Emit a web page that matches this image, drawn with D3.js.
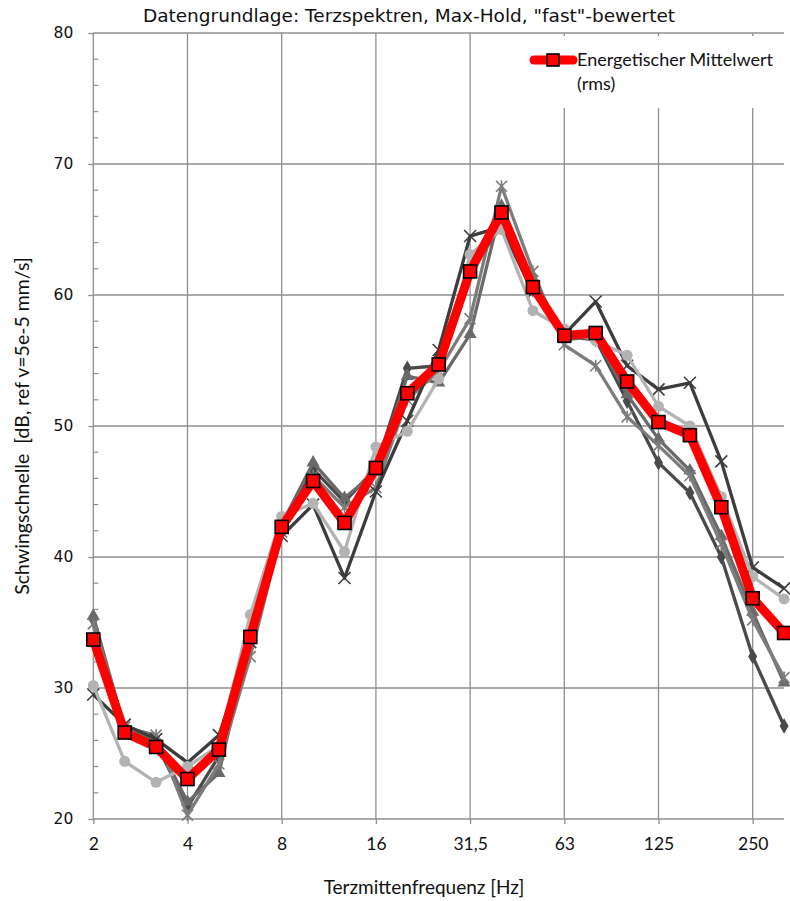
<!DOCTYPE html>
<html>
<head>
<meta charset="utf-8">
<script src="https://cdn.jsdelivr.net/npm/d3@7"></script>
<style>
  html, body { margin: 0; padding: 0; background: #fff; }
  svg { display: block; }
</style>
</head>
<body>
<svg id="chart" width="790" height="901"></svg>
<script>
// Third-octave centre frequencies (Hz)
const categories = ["2","2,5","3,15","4","5","6,3","8","10","12,5","16","20","25","31,5","40","50","63","80","100","125","160","200","250","315"];
// Labels shown on the frequency axis (every third band)
const tickLabels = ["2","4","8","16","31,5","63","125","250"];
const yTicks = [20, 30, 40, 50, 60, 70, 80];

// Individual measurements (dB)
const seriesCircle   = [30.2,24.4,22.8,24.0,25.6,35.6,43.1,44.1,40.4,48.4,49.6,53.6,63.1,65.0,58.8,57.4,56.5,55.4,51.5,50.0,44.6,38.5,36.8];
const seriesStar     = [34.9,27.0,26.4,20.3,24.2,32.4,41.9,46.2,43.8,45.3,52.0,54.2,58.2,68.3,61.8,56.2,54.6,50.7,48.5,46.2,41.0,35.2,30.8];
const seriesTriangle = [35.5,26.9,26.0,21.3,23.5,33.8,42.5,47.2,44.5,46.5,53.8,53.3,57.0,66.8,61.0,56.6,56.8,52.4,49.0,46.6,41.6,35.8,30.4];
const seriesDiamond  = [35.2,26.8,25.8,20.9,24.8,34.2,42.2,46.7,44.2,46.8,54.4,54.6,61.8,65.3,60.4,56.8,56.6,51.9,47.2,44.9,40.0,32.4,27.1];
const seriesCross    = [29.5,27.2,26.1,24.3,26.4,33.5,41.6,44.0,38.4,45.0,50.4,55.8,64.5,65.2,60.2,57.0,59.5,54.6,52.8,53.3,47.3,39.2,37.6];
// Energetic mean (rms)
const seriesMean     = [33.7,26.6,25.5,23.05,25.3,33.9,42.3,45.8,42.6,46.8,52.5,54.7,61.8,66.3,60.6,56.9,57.1,53.4,50.3,49.3,43.8,36.85,34.2];

const svg = d3.select("#chart");
const plotLeft = 93.3, plotRight = 784.1, plotTop = 33, plotBottom = 819;

const x = d3.scalePoint().domain(categories).range([plotLeft, plotRight]);
const y = d3.scaleLinear().domain([20, 80]).range([plotBottom, plotTop]);

const gridColor = "#8f8f8f";
const calibriLike = "Lato, 'Open Sans', sans-serif";
const gothicLike = "'DejaVu Sans', 'Noto Sans', sans-serif";

// Horizontal gridlines
svg.append("g").selectAll("line").data(yTicks.slice(1)).join("line")
  .attr("x1", plotLeft).attr("x2", plotRight)
  .attr("y1", d => y(d)).attr("y2", d => y(d))
  .attr("stroke", gridColor).attr("stroke-width", 1.3);

// Vertical gridlines at labelled bands
svg.append("g").selectAll("line").data(tickLabels.slice(1)).join("line")
  .attr("x1", d => x(d)).attr("x2", d => x(d))
  .attr("y1", plotTop).attr("y2", plotBottom)
  .attr("stroke", gridColor).attr("stroke-width", 1.3);

// Y axis (major ticks outside, minor ticks every 2 dB inside)
const yAxis = svg.append("g").attr("transform", `translate(${plotLeft},0)`)
  .call(d3.axisLeft(y).tickValues(yTicks).tickSize(5).tickPadding(15).tickFormat(d3.format("d")));
yAxis.select(".domain").attr("stroke", gridColor).attr("stroke-width", 1.3).attr("d", `M0,${plotTop}V${plotBottom}`);
yAxis.selectAll(".tick line").attr("stroke", gridColor).attr("stroke-width", 1.3);
yAxis.selectAll(".tick text").attr("font-family", gothicLike).attr("font-size", 15.5).attr("fill", "#111");
const minor = d3.range(20, 81, 2).filter(v => v % 10 !== 0);
svg.append("g").selectAll("line").data(minor).join("line")
  .attr("x1", plotLeft).attr("x2", plotLeft + 5)
  .attr("y1", d => y(d)).attr("y2", d => y(d))
  .attr("stroke", gridColor).attr("stroke-width", 1.2);

// X axis
const xAxis = svg.append("g").attr("transform", `translate(0,${plotBottom})`)
  .call(d3.axisBottom(x).tickValues(tickLabels).tickSize(5).tickPadding(14));
xAxis.select(".domain").attr("stroke", gridColor).attr("stroke-width", 1.3).attr("d", `M${plotLeft},0H${plotRight}`);
xAxis.selectAll(".tick line").attr("stroke", gridColor).attr("stroke-width", 1.3);
xAxis.selectAll(".tick text").attr("font-family", calibriLike).attr("font-size", 17.5).attr("fill", "#111");

// Marker shapes
const symCircle = d3.symbol().type(d3.symbolCircle).size(95);
const symTriangle = d3.symbol().type(d3.symbolTriangle).size(75);
const symDiamond = d3.symbol().type(d3.symbolDiamond).size(70);

const line = d3.line().x((d, i) => x(categories[i])).y(d => y(d));

const grays = [
  { values: seriesDiamond,  color: "#4a4a4a", marker: "diamond" },
  { values: seriesTriangle, color: "#6a6a6a", marker: "triangle" },
  { values: seriesStar,     color: "#7c7c7c", marker: "star" },
  { values: seriesCross,    color: "#3d3d3d", marker: "cross" },
  { values: seriesCircle,   color: "#b3b3b3", marker: "circle" }
];

grays.forEach(s => {
  const g = svg.append("g");
  g.append("path").datum(s.values).attr("d", line)
    .attr("fill", "none").attr("stroke", s.color).attr("stroke-width", 3.3)
    .attr("stroke-linejoin", "round");
  const pts = g.selectAll("g.pt").data(s.values).join("g")
    .attr("transform", (d, i) => `translate(${x(categories[i])},${y(d)})`);
  if (s.marker === "circle") {
    pts.append("path").attr("d", symCircle).attr("fill", s.color);
  } else if (s.marker === "triangle") {
    pts.append("path").attr("d", symTriangle).attr("fill", s.color);
  } else if (s.marker === "diamond") {
    pts.append("path").attr("d", symDiamond).attr("fill", s.color);
  } else if (s.marker === "cross") {
    pts.append("path").attr("d", "M-6,-6L6,6M-6,6L6,-6")
      .attr("stroke", s.color).attr("stroke-width", 1.6).attr("fill", "none");
  } else if (s.marker === "star") {
    pts.append("path").attr("d", "M-5.5,-5.5L5.5,5.5M-5.5,5.5L5.5,-5.5M0,-6V6")
      .attr("stroke", s.color).attr("stroke-width", 1.6).attr("fill", "none");
  }
});

// Energetic mean
svg.append("path").datum(seriesMean).attr("d", line)
  .attr("fill", "none").attr("stroke", "#ff0000").attr("stroke-width", 9)
  .attr("stroke-linejoin", "round");
svg.append("g").selectAll("rect").data(seriesMean).join("rect")
  .attr("x", (d, i) => x(categories[i]) - 6.5)
  .attr("y", d => y(d) - 6.5)
  .attr("width", 13).attr("height", 13)
  .attr("fill", "#ff0000").attr("stroke", "#000").attr("stroke-width", 1.6);

// Legend
const legend = svg.append("g");
legend.append("rect").attr("x", 522).attr("y", 36).attr("width", 262).attr("height", 72).attr("fill", "#fff");
legend.append("line").attr("x1", 534).attr("x2", 573).attr("y1", 60).attr("y2", 60)
  .attr("stroke", "#ff0000").attr("stroke-width", 9).attr("stroke-linecap", "round");
legend.append("rect").attr("x", 547).attr("y", 54).attr("width", 12).attr("height", 12)
  .attr("fill", "#ff0000").attr("stroke", "#000").attr("stroke-width", 1.6);
legend.append("text").attr("x", 577).attr("y", 66)
  .attr("font-family", calibriLike).attr("font-size", 18).attr("fill", "#111")
  .text("Energetischer Mittelwert");
legend.append("text").attr("x", 577).attr("y", 90)
  .attr("font-family", calibriLike).attr("font-size", 18).attr("fill", "#111")
  .text("(rms)");

// Titles
svg.append("text").attr("x", 409).attr("y", 22).attr("text-anchor", "middle")
  .attr("font-family", gothicLike).attr("font-size", 18.5).attr("fill", "#111")
  .text("Datengrundlage: Terzspektren, Max-Hold, \"fast\"-bewertet");
svg.append("text").attr("x", 424).attr("y", 894).attr("text-anchor", "middle")
  .attr("font-family", calibriLike).attr("font-size", 19).attr("fill", "#111")
  .text("Terzmittenfrequenz [Hz]");
svg.append("text").attr("transform", "translate(29,426) rotate(-90)").attr("text-anchor", "middle")
  .attr("font-family", calibriLike).attr("font-size", 19.5).attr("fill", "#111")
  .attr("xml:space", "preserve")
  .text("Schwingschnelle  [dB, ref v=5e-5 mm/s]");
</script>
</body>
</html>
